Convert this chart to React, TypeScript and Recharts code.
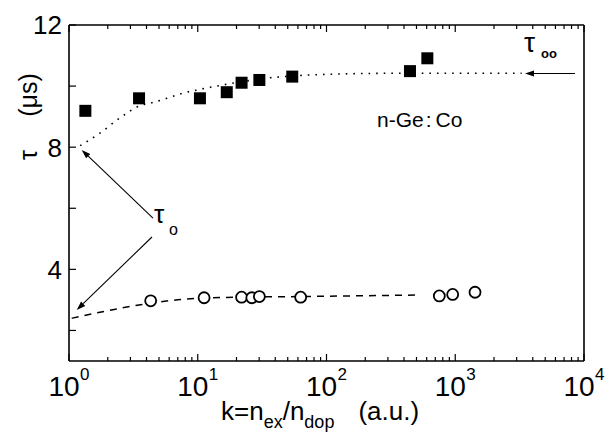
import React from "react"
import { ComposedChart, Line, Scatter, XAxis, YAxis, ReferenceLine } from "recharts"

// filled squares (upper set)
const squareK = [1.34, 3.5, 10.4, 16.8, 21.9, 30.1, 54.2, 445, 607]
const squareTau = [9.19, 9.6, 9.6, 9.8, 10.11, 10.2, 10.31, 10.49, 10.91]

// open circles (lower set)
const circleK = [4.31, 11.2, 21.9, 26.3, 30.1, 63, 752, 955, 1424]
const circleTau = [2.97, 3.07, 3.09, 3.07, 3.11, 3.09, 3.13, 3.18, 3.25]

// dotted fit curve
const dotFitK = [1.22, 1.74, 2.49, 3.67, 4.26, 5.74, 7.67, 9.81, 14, 21.9, 34.4, 54, 112, 372, 3280]
const dotFitTau = [8.05, 8.46, 8.96, 9.38, 9.44, 9.6, 9.77, 9.87, 10.0, 10.14, 10.26, 10.33, 10.39, 10.42, 10.42]

// dashed fit curve
const dashFitK = [1.05, 1.96, 4.26, 7.72, 21.3, 62, 502]
const dashFitTau = [2.4, 2.64, 2.89, 3.02, 3.09, 3.11, 3.16]

const xMajor = [1, 10, 100, 1000, 10000]
const xMinor = [
    2, 3, 4, 5, 6, 7, 8, 9,
    20, 30, 40, 50, 60, 70, 80, 90,
    200, 300, 400, 500, 600, 700, 800, 900,
    2000, 3000, 4000, 5000, 6000, 7000, 8000, 9000,
]
const yTicks = [2, 4, 6, 8, 10, 12]
const yLabels = [4, 8, 12]

// annotation arrows: [from, to] in data units (k, tau)
const tauInfArrow = [{ x: 8510, y: 10.41 }, { x: 3480, y: 10.41 }]
const tau0UpperArrow = [{ x: 4.49, y: 5.68 }, { x: 1.255, y: 7.91 }]
const tau0LowerArrow = [{ x: 4.41, y: 5.06 }, { x: 1.148, y: 2.67 }]

const squares = squareK.map((k, i) => ({ k, tau: squareTau[i] }))
const circles = circleK.map((k, i) => ({ k, tau: circleTau[i] }))
const dotFit = dotFitK.map((k, i) => ({ k, tau: dotFitTau[i] }))
const dashFit = dashFitK.map((k, i) => ({ k, tau: dashFitTau[i] }))

const FONT = "'Liberation Sans', Arial, Helvetica, sans-serif"
const axisStyle = { stroke: "#000", strokeWidth: 1.6 }

function BottomTick(props: any) {
    const { x, y, payload } = props
    const v = payload.value
    const major = xMajor.includes(v)
    return (
        <g>
            <line x1={x} x2={x} y1={y} y2={y - (major ? 7 : 4)} stroke="#000" strokeWidth={1.2} />
            {major && (
                <>
                    <text x={x - 5} y={396} textAnchor="middle" fontSize={28} fontFamily={FONT} fill="#000">10</text>
                    <text x={x + 11} y={380} textAnchor="start" fontSize={17} fontFamily={FONT} fill="#000">
                        {Math.round(Math.log10(v))}
                    </text>
                </>
            )}
        </g>
    )
}

function TopTick(props: any) {
    const { x, y, payload } = props
    const major = xMajor.includes(payload.value)
    return <line x1={x} x2={x} y1={y} y2={y + (major ? 7 : 4)} stroke="#000" strokeWidth={1.2} />
}

function LeftTick(props: any) {
    const { x, y, payload } = props
    const v = payload.value
    return (
        <g>
            <line x1={x} x2={x + 7} y1={y} y2={y} stroke="#000" strokeWidth={1.2} />
            {yLabels.includes(v) && (
                <text x={x - 7} y={y} dy="0.36em" textAnchor="end" fontSize={26} fontFamily={FONT} fill="#000">
                    {v}
                </text>
            )}
        </g>
    )
}

const squareShape = (p: any) => <rect x={p.cx - 6} y={p.cy - 6} width={12} height={12} fill="#000" />
const circleShape = (p: any) => <circle cx={p.cx} cy={p.cy} r={5.5} fill="#fff" stroke="#000" strokeWidth={1.8} />

const arrowShape = (p: any) => {
    const { x1, y1, x2, y2 } = p
    const a = Math.atan2(y2 - y1, x2 - x1)
    const len = 9
    const w = 3
    const bx = x2 - len * Math.cos(a)
    const by = y2 - len * Math.sin(a)
    const px = -Math.sin(a) * w
    const py = Math.cos(a) * w
    return (
        <g>
            <line x1={x1} y1={y1} x2={bx} y2={by} stroke="#000" strokeWidth={1.1} />
            <polygon points={`${x2},${y2} ${bx + px},${by + py} ${bx - px},${by - py}`} fill="#000" />
        </g>
    )
}

export default function App() {
    return (
        <div style={{ position: "relative", width: 606, height: 432, background: "#fff" }}>
            <style>{"body{margin:0}"}</style>
            <ComposedChart width={606} height={432} margin={{ top: 24, right: 21, bottom: 70, left: 68 }}>
                <XAxis
                    dataKey="k"
                    type="number"
                    scale="log"
                    domain={[1, 10000]}
                    allowDataOverflow
                    ticks={[...xMajor, ...xMinor]}
                    interval={0}
                    height={1}
                    tickSize={0}
                    tickMargin={0}
                    tick={<BottomTick />}
                    axisLine={axisStyle}
                    tickLine={false}
                />
                <XAxis
                    xAxisId="top"
                    orientation="top"
                    dataKey="k"
                    type="number"
                    scale="log"
                    domain={[1, 10000]}
                    allowDataOverflow
                    ticks={[...xMajor, ...xMinor]}
                    interval={0}
                    height={1}
                    tickSize={0}
                    tickMargin={0}
                    tick={<TopTick />}
                    axisLine={axisStyle}
                    tickLine={false}
                />
                <YAxis
                    type="number"
                    domain={[1, 12]}
                    allowDataOverflow
                    ticks={yTicks}
                    interval={0}
                    width={1}
                    tickSize={0}
                    tickMargin={0}
                    tick={<LeftTick />}
                    axisLine={axisStyle}
                    tickLine={false}
                />
                <YAxis
                    yAxisId="right"
                    orientation="right"
                    type="number"
                    domain={[1, 12]}
                    allowDataOverflow
                    width={1}
                    tick={false}
                    tickLine={false}
                    axisLine={axisStyle}
                />
                <Line
                    data={dotFit}
                    dataKey="tau"
                    type="monotone"
                    stroke="#000"
                    strokeWidth={1.6}
                    strokeDasharray="1.6 6"
                    dot={false}
                    activeDot={false}
                    isAnimationActive={false}
                />
                <Line
                    data={dashFit}
                    dataKey="tau"
                    type="monotone"
                    stroke="#000"
                    strokeWidth={1.5}
                    strokeDasharray="7 6"
                    dot={false}
                    activeDot={false}
                    isAnimationActive={false}
                />
                <Scatter data={squares} dataKey="tau" shape={squareShape} isAnimationActive={false} />
                <Scatter data={circles} dataKey="tau" shape={circleShape} isAnimationActive={false} />
                <ReferenceLine segment={tauInfArrow} ifOverflow="visible" shape={arrowShape} />
                <ReferenceLine segment={tau0UpperArrow} ifOverflow="visible" shape={arrowShape} />
                <ReferenceLine segment={tau0LowerArrow} ifOverflow="visible" shape={arrowShape} />
            </ComposedChart>
            <svg
                width={606}
                height={432}
                style={{ position: "absolute", left: 0, top: 0, pointerEvents: "none" }}
                fontFamily={FONT}
            >
                {/* axis titles */}
                <text x={29} y={155} dy="0.3em" transform="rotate(-90 29 155)" textAnchor="middle" fontSize={25}>τ</text>
                <text x={29} y={95} dy="0.3em" transform="rotate(-90 29 95)" textAnchor="middle" fontSize={25}>(μs)</text>
                <text x={221} y={420} fontSize={26}>
                    k=n<tspan fontSize={18} dy={8}>ex</tspan>
                    <tspan fontSize={26} dy={-8}>/n</tspan>
                    <tspan fontSize={18} dy={8}>dop</tspan>
                    <tspan fontSize={26} dy={-8} dx={24}>(a.u.)</tspan>
                </text>
                {/* annotations */}
                <text x={377} y={127} fontSize={21}>
                    n-Ge<tspan dx={2}>:</tspan><tspan dx={4}>Co</tspan>
                </text>
                <text x={524} y={52} fontSize={28}>τ</text>
                <text x={541} y={58} fontSize={13} fontWeight="bold">oo</text>
                <text x={154} y={223} fontSize={26}>τ</text>
                <text x={169} y={235} fontSize={16}>o</text>
            </svg>
        </div>
    )
}
